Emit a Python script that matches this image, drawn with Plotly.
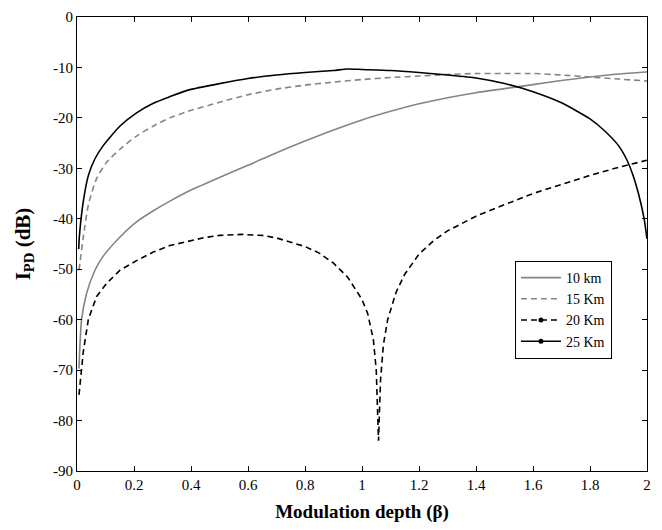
import plotly.graph_objects as go

# 10 km
beta_10 = [0.007, 0.016, 0.034, 0.063, 0.092, 0.151, 0.209, 0.268, 0.326, 0.4, 0.5, 0.6, 0.7, 0.8,
           0.9, 1.0, 1.1, 1.2, 1.3, 1.4, 1.5, 1.6, 1.7, 1.8, 1.9, 2.0]
ipd_10 = [-69.7, -60.0, -54.7, -50.2, -47.4, -43.6, -40.6, -38.4, -36.5, -34.3, -31.8, -29.4, -26.9,
          -24.6, -22.4, -20.4, -18.7, -17.2, -16.0, -15.0, -14.2, -13.4, -12.6, -11.9, -11.3, -10.9]

# 15 Km
beta_15 = [0.007, 0.022, 0.04, 0.069, 0.104, 0.151, 0.209, 0.268, 0.326, 0.39, 0.5, 0.6, 0.7, 0.8,
           0.9, 1.0, 1.1, 1.2, 1.3, 1.4, 1.5, 1.6, 1.7, 1.8, 1.9, 2.0]
ipd_15 = [-50.2, -43.7, -37.2, -32.0, -28.8, -26.2, -23.6, -21.6, -20.0, -18.7, -16.9, -15.4, -14.3,
          -13.5, -12.9, -12.4, -12.0, -11.7, -11.4, -11.2, -11.2, -11.2, -11.5, -11.9, -12.3, -12.7]

# 20 Km
beta_20 = [0.007, 0.022, 0.04, 0.069, 0.104, 0.151, 0.209, 0.268, 0.326, 0.39, 0.45, 0.5, 0.58, 0.65,
           0.7, 0.8, 0.85, 0.9, 0.95, 1.0, 1.02, 1.04, 1.05, 1.058, 1.065, 1.075, 1.09, 1.12, 1.15,
           1.2, 1.25, 1.3, 1.4, 1.5, 1.6, 1.7, 1.8, 1.9, 2.0]
ipd_20 = [-74.9, -66.4, -59.9, -55.4, -52.8, -50.2, -48.3, -46.6, -45.3, -44.4, -43.7, -43.3, -43.1,
          -43.3, -43.8, -45.5, -46.8, -48.8, -51.6, -56.0, -58.8, -64.0, -70.0, -84.0, -72.0, -65.0,
          -60.0, -54.5, -51.0, -47.0, -44.4, -42.4, -39.5, -37.2, -35.0, -33.2, -31.4, -29.8, -28.4]

# 25 Km
beta_25 = [0.006, 0.008, 0.022, 0.04, 0.063, 0.092, 0.151, 0.209, 0.268, 0.326, 0.39, 0.5, 0.6, 0.7,
           0.8, 0.9, 0.95, 1.0, 1.1, 1.2, 1.3, 1.4, 1.5, 1.6, 1.7, 1.8, 1.85, 1.9, 1.93, 1.95, 1.97,
           1.99, 2.0]
ipd_25 = [-46.0, -43.7, -36.6, -31.4, -28.1, -25.5, -21.6, -19.0, -17.1, -15.8, -14.5, -13.2, -12.2,
          -11.5, -11.0, -10.6, -10.3, -10.4, -10.6, -11.0, -11.5, -12.1, -13.2, -14.8, -17.0, -20.2,
          -22.5, -25.5, -28.4, -31.2, -35.0, -40.0, -44.0]

labels = ["10 km", "15 Km", "20 Km", "25 Km"]
xs = [beta_10, beta_15, beta_20, beta_25]
ys = [ipd_10, ipd_15, ipd_20, ipd_25]
colors = ["#858585", "#858585", "#000000", "#000000"]
dashes = ["solid", "6px,4px", "6px,4px", "solid"]
has_marker = [False, False, True, True]
shapes = ["spline", "spline", "linear", "spline"]

x_ticks = [0, 0.2, 0.4, 0.6, 0.8, 1, 1.2, 1.4, 1.6, 1.8, 2]
x_tick_text = ["0", "0.2", "0.4", "0.6", "0.8", "1", "1.2", "1.4", "1.6", "1.8", "2"]
y_ticks = [0, -10, -20, -30, -40, -50, -60, -70, -80, -90]
y_tick_text = ["0", "-10", "-20", "-30", "-40", "-50", "-60", "-70", "-80", "-90"]

fig = go.Figure()
for lab, x, y, c, d, m, s in zip(labels, xs, ys, colors, dashes, has_marker, shapes):
    fig.add_trace(go.Scatter(x=x, y=y, mode="lines", showlegend=False,
                             line=dict(color=c, width=1.6, dash=d, shape=s, smoothing=0.6),
                             hoverinfo="skip"))
    fig.add_trace(go.Scatter(x=[None], y=[None], name=lab,
                             mode="lines+markers" if m else "lines",
                             line=dict(color=c, width=1.6, dash=d),
                             marker=dict(color=c, size=5, symbol="circle")))

font = "Liberation Serif"
axis_common = dict(showline=True, linecolor="black", linewidth=1.2, mirror="ticks",
                   ticks="inside", ticklen=5, tickcolor="black", showgrid=False,
                   zeroline=False, tickfont=dict(family=font, size=15, color="black"))

fig.update_layout(
    width=662, height=530,
    margin=dict(l=77, r=15, t=9, b=59),
    paper_bgcolor="white", plot_bgcolor="white",
    font=dict(family=font, color="black"),
    xaxis=dict(range=[0, 2], tickvals=x_ticks, ticktext=x_tick_text,
               title=dict(text="<b>Modulation depth (β)</b>", font=dict(family=font, size=19),
                          standoff=12),
               **axis_common),
    yaxis=dict(range=[-90, 0], tickvals=y_ticks, ticktext=y_tick_text,
               title=dict(text="<b>I<sub>PD</sub> (dB)</b>", font=dict(family=font, size=21),
                          standoff=16),
               **axis_common),
    legend=dict(x=0.768, y=0.463, xanchor="left", yanchor="top",
                bgcolor="white", bordercolor="black", borderwidth=1.2,
                font=dict(family=font, size=14, color="black"),
                tracegroupgap=0, itemwidth=40),
)

fig.write_html("out.html")
